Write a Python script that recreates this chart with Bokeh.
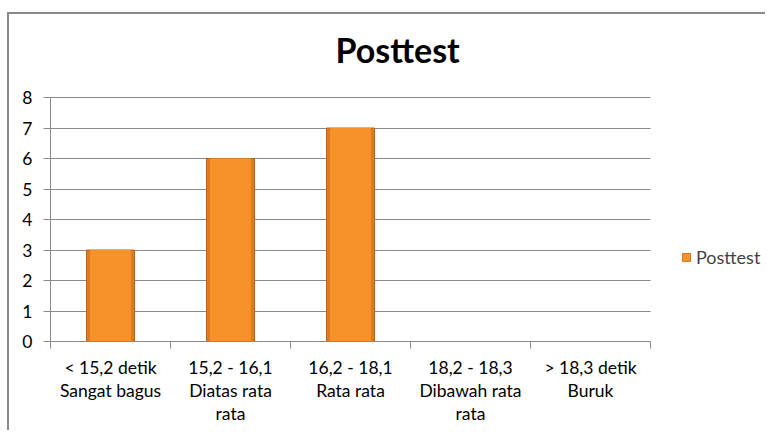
from bokeh.plotting import figure
from bokeh.models import (Range1d, LinearAxis, FixedTicker, Grid,
                          Legend, LegendItem, ColumnDataSource)
from bokeh.embed import file_html
from bokeh.resources import INLINE

categories = ["< 15,2 detik\nSangat bagus",
              "15,2 - 16,1\nDiatas rata\nrata",
              "16,2 - 18,1\nRata rata",
              "18,2 - 18,3\nDibawah rata\nrata",
              "> 18,3 detik\nBuruk"]
posttest = [3, 6, 7, 0, 0]
y_ticks = [0, 1, 2, 3, 4, 5, 6, 7, 8]
series_name = "Posttest"
chart_title = "Posttest"

FONT = "Lato"
GRAY = "#8a8a8a"

# layout constants (pixels)
W, H = 758, 418
BL, BR, BB = 41, 0, 91
TITLE_H, TITLE_STANDOFF = 43, 24
PLOT_AREA_W = 600      # width covered by the categories
PLOT_AREA_H = 244      # height covered by 0..8
frame_w = W - BL - BR
frame_h = H - BB - TITLE_H - TITLE_STANDOFF

n = len(categories)
ymax = max(y_ticks)
centers = [float(i) + 0.5 for i in range(n)]
bounds = [float(i) for i in range(n + 1)]

p = figure(width=W, height=H, x_range=Range1d(0, n * frame_w / PLOT_AREA_W),
           y_range=Range1d(0, ymax * frame_h / PLOT_AREA_H),
           output_backend="svg", toolbar_location=None, x_axis_location=None,
           y_axis_location=None,
           min_border_left=BL, min_border_right=BR, min_border_top=0, min_border_bottom=BB,
           styles={"margin-top": "12px", "margin-left": "7px",
                   "border-left": "2px solid #8a8a8a",
                   "border-top": "2px solid #8a8a8a"})
p.outline_line_color = None
p.background_fill_color = "white"
p.border_fill_color = "white"

# title
p.title.text = chart_title
p.title.align = "left"
p.title.text_font = FONT
p.title.text_font_style = "bold"
p.title.text_font_size = "34px"
p.title.text_color = "black"
p.title.offset = 285
p.title.standoff = TITLE_STANDOFF

# y axis
yaxis = LinearAxis(ticker=FixedTicker(ticks=y_ticks), bounds=(0, ymax))
yaxis.axis_line_color = GRAY
yaxis.major_tick_line_color = GRAY
yaxis.major_tick_in = 0
yaxis.major_tick_out = 7
yaxis.minor_tick_line_color = None
yaxis.major_label_text_font = FONT
yaxis.major_label_text_font_size = "17.5px"
yaxis.major_label_text_color = "black"
yaxis.major_label_standoff = 11
p.add_layout(yaxis, "left")

p.xgrid.grid_line_color = None
p.ygrid.grid_line_color = None
has_cross = "cross_bounds" in Grid.properties()
if has_cross:
    grid = Grid(dimension=1, ticker=FixedTicker(ticks=y_ticks), grid_line_color=GRAY,
                cross_bounds=(0, n))
    p.add_layout(grid)
else:
    p.segment(x0=[0] * len(y_ticks), x1=[n] * len(y_ticks), y0=y_ticks, y1=y_ticks,
              line_color=GRAY, line_width=1, level="underlay")

# x axis: boundary ticks
tick_axis = LinearAxis(ticker=FixedTicker(ticks=bounds), bounds=(0, n))
tick_axis.axis_line_color = GRAY
tick_axis.major_tick_line_color = GRAY
tick_axis.major_tick_in = 0
tick_axis.major_tick_out = 7
tick_axis.minor_tick_line_color = None
tick_axis.major_label_text_alpha = 0
tick_axis.major_label_text_font_size = "1px"
tick_axis.major_label_standoff = 0
p.add_layout(tick_axis, "below")

cat_axis = LinearAxis(ticker=FixedTicker(ticks=centers),
                      major_label_overrides={c: lab for c, lab in zip(centers, categories)})
cat_axis.axis_line_color = None
cat_axis.major_tick_line_color = None
cat_axis.minor_tick_line_color = None
cat_axis.major_tick_out = 0
cat_axis.major_label_text_font = FONT
cat_axis.major_label_text_font_size = "17.5px"
cat_axis.major_label_text_color = "black"
cat_axis.major_label_text_line_height = 1.1
cat_axis.major_label_standoff = 8
p.add_layout(cat_axis, "below")

src = ColumnDataSource(dict(x=centers, val=posttest))
outer = p.vbar(x="x", top="val", width=0.4, source=src,
               fill_color="#DE7A1F", line_color="#B9641C", line_width=1)
inner = p.vbar(x="x", top="val", width=0.34, source=src,
               fill_color="#F7922B", line_color=None)

legend = Legend(items=[LegendItem(label=series_name, renderers=[outer, inner])],
                location=(631, 73), border_line_color=None, background_fill_alpha=0,
                glyph_width=10, glyph_height=10, label_text_font=FONT,
                label_text_font_size="18px", padding=0, spacing=0, label_standoff=5,
                margin=0)
p.add_layout(legend, "center")

open("out.html", "w").write(file_html(p, INLINE))
